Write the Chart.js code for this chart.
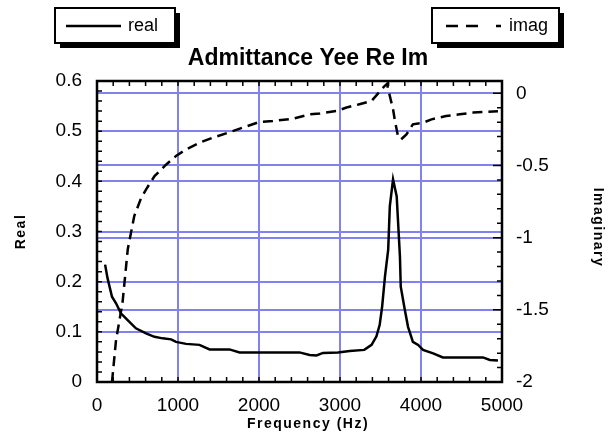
<!DOCTYPE html>
<html>
<head>
  <script src="https://cdn.jsdelivr.net/npm/chart.js@4.4.1/dist/chart.umd.min.js"></script>
  <style>
    body { margin: 0; background: #fff; }
    .chart-container { position: relative; width: 616px; height: 434px; }
  </style>
</head>
<body>
  <div class="chart-container">
    <canvas id="myChart"></canvas>
  </div>
  <script type="text/javascript">
    // data
    var realFreq = [100, 130, 185, 235, 295, 400, 480, 605, 710, 810, 915, 975, 1100, 1265, 1390, 1635, 1760, 2170, 2500, 2625, 2710, 2790, 2975, 3120, 3300, 3390, 3450, 3490, 3520, 3555, 3595, 3615, 3655, 3700, 3720, 3740, 3750, 3800, 3840, 3900, 3965, 4025, 4150, 4270, 4765, 4850, 4950];
    var realVals = [0.234, 0.207, 0.170, 0.157, 0.137, 0.120, 0.107, 0.097, 0.090, 0.087, 0.085, 0.080, 0.076, 0.074, 0.065, 0.065, 0.059, 0.059, 0.059, 0.054, 0.053, 0.058, 0.059, 0.062, 0.064, 0.074, 0.091, 0.114, 0.150, 0.210, 0.264, 0.350, 0.404, 0.370, 0.310, 0.250, 0.190, 0.144, 0.110, 0.080, 0.074, 0.064, 0.057, 0.049, 0.049, 0.044, 0.043];

    var imagFreq = [185, 235, 315, 380, 460, 545, 605, 710, 855, 975, 1100, 1265, 1430, 1675, 2005, 2170, 2420, 2625, 2750, 2955, 3080, 3240, 3390, 3550, 3580, 3610, 3655, 3675, 3715, 3755, 3820, 3900, 4025, 4130, 4310, 4480, 4645, 4765, 4950];
    var imagVals = [-2.0, -1.71, -1.45, -1.08, -0.85, -0.725, -0.667, -0.574, -0.493, -0.435, -0.389, -0.342, -0.308, -0.262, -0.199, -0.192, -0.176, -0.146, -0.140, -0.123, -0.099, -0.076, -0.053, 0.05, 0.065, -0.007, -0.111, -0.18, -0.296, -0.319, -0.285, -0.215, -0.204, -0.181, -0.157, -0.146, -0.134, -0.13, -0.125];

    var xTicks = [0, 1000, 2000, 3000, 4000, 5000];
    var yTicks = [0, 0.1, 0.2, 0.3, 0.4, 0.5, 0.6];
    var y2Ticks = [-2, -1.5, -1, -0.5, 0];

    var chartTitle = 'Admittance Yee Re Im';
    var xTitle = 'Frequency (Hz)';
    var yTitle = 'Real';
    var y2Title = 'Imaginary';
    var seriesNames = ['real', 'imag'];

    var FONT = "'Liberation Sans', Arial, sans-serif";
    var GRID = '#8282ee';

    function pts(xs, ys) {
      return xs.map(function(x, i) { return { x: x, y: ys[i] }; });
    }

    function gridColor(lo, hi) {
      return function(c) {
        var v = c.tick.value;
        return (v > lo + 1e-6 && v < hi - 1e-6) ? GRID : 'rgba(0,0,0,0)';
      };
    }

    function plainLabel(v) {
      return String(Math.round(v * 100) / 100);
    }

    // frame, inward ticks, legend boxes and titles
    var decor = {
      id: 'decor',
      afterDatasetsDraw: function(chart) {
        var ctx = chart.ctx;
        var a = chart.chartArea;
        var sx = chart.scales.x, sy = chart.scales.y, sy2 = chart.scales.y2;
        ctx.save();
        ctx.strokeStyle = '#000';
        ctx.lineWidth = 1.5;
        ctx.beginPath();
        // x minor ticks (top and bottom)
        for (var f = 200; f < 5000; f += 200) {
          var px = sx.getPixelForValue(f);
          ctx.moveTo(px, a.bottom); ctx.lineTo(px, a.bottom - 5);
          ctx.moveTo(px, a.top); ctx.lineTo(px, a.top + 5);
        }
        // left minor ticks
        for (var v = 0.02; v < 0.599; v += 0.02) {
          var py = sy.getPixelForValue(v);
          ctx.moveTo(a.left, py); ctx.lineTo(a.left + 5, py);
        }
        // right ticks
        for (var k = -19; k <= 0; k++) {
          var py2 = sy2.getPixelForValue(k / 10);
          var len = (k % 5 === 0) ? 9 : 5;
          ctx.moveTo(a.right, py2); ctx.lineTo(a.right - len, py2);
        }
        ctx.stroke();

        // frame
        ctx.lineWidth = 2.5;
        ctx.strokeRect(a.left, a.top, a.right - a.left, a.bottom - a.top);
        ctx.restore();
      },
      afterDraw: function(chart) {
        var ctx = chart.ctx;
        var a = chart.chartArea;
        ctx.save();

        // legend boxes with drop shadow
        function box(x0, y0, w, h) {
          ctx.fillStyle = '#000';
          ctx.fillRect(x0 + 5, y0 + 5, w, h);
          ctx.fillStyle = '#fff';
          ctx.fillRect(x0, y0, w, h);
          ctx.lineWidth = 2;
          ctx.strokeStyle = '#000';
          ctx.strokeRect(x0, y0, w, h);
        }
        box(55, 8, 120, 35);
        box(432, 8, 127, 35);

        ctx.lineWidth = 2.5;
        ctx.beginPath();
        ctx.moveTo(66, 26); ctx.lineTo(121, 26);
        ctx.stroke();
        ctx.setLineDash([12, 8, 12, 18]);
        ctx.beginPath();
        ctx.moveTo(446, 26); ctx.lineTo(501, 26);
        ctx.stroke();
        ctx.setLineDash([]);

        ctx.fillStyle = '#000';
        ctx.font = '18px ' + FONT;
        ctx.textBaseline = 'middle';
        ctx.textAlign = 'left';
        ctx.fillText(seriesNames[0], 128, 26);
        ctx.fillText(seriesNames[1], 509, 26);

        // chart title
        ctx.font = 'bold 23px ' + FONT;
        ctx.textAlign = 'center';
        ctx.textBaseline = 'alphabetic';
        ctx.fillText(chartTitle, 308, 65);

        // x title
        ctx.font = 'bold 14px ' + FONT;
        ctx.letterSpacing = '1.5px';
        ctx.fillText(xTitle, 308, 428);

        // y titles
        ctx.save();
        ctx.translate(25, (a.top + a.bottom) / 2);
        ctx.rotate(-Math.PI / 2);
        ctx.fillText(yTitle, 0, 0);
        ctx.restore();

        ctx.save();
        ctx.translate(594, (a.top + a.bottom) / 2 - 4);
        ctx.rotate(Math.PI / 2);
        ctx.fillText(y2Title, 0, 0);
        ctx.restore();

        ctx.restore();
      }
    };

    var ctx = document.getElementById('myChart').getContext('2d');
    var chart = new Chart(ctx, {
      type: 'line',
      data: {
        datasets: [{
          label: seriesNames[0],
          data: pts(realFreq, realVals),
          yAxisID: 'y',
          borderColor: '#000',
          borderWidth: 2.5,
          pointRadius: 0,
          tension: 0,
          fill: false
        }, {
          label: seriesNames[1],
          data: pts(imagFreq, imagVals),
          yAxisID: 'y2',
          borderColor: '#000',
          borderWidth: 2.5,
          borderDash: [10, 6],
          pointRadius: 0,
          tension: 0,
          fill: false
        }]
      },
      options: {
        responsive: true,
        maintainAspectRatio: false,
        animation: false,
        layout: { padding: { top: 81, left: 0, right: 0, bottom: 0 } },
        plugins: {
          legend: { display: false },
          title: { display: false },
          tooltip: { enabled: false }
        },
        scales: {
          x: {
            type: 'linear',
            min: 0,
            max: 5000,
            afterBuildTicks: function(s) { s.ticks = xTicks.map(function(v) { return { value: v }; }); },
            afterFit: function(s) { s.height = 52; },
            ticks: { color: '#000', font: { family: FONT, size: 19 }, padding: 12, maxRotation: 0, callback: plainLabel },
            grid: { color: gridColor(0, 5000), lineWidth: 2, drawTicks: false },
            border: { display: false }
          },
          y: {
            position: 'left',
            min: 0,
            max: 0.6,
            afterBuildTicks: function(s) { s.ticks = yTicks.map(function(v) { return { value: v }; }); },
            afterFit: function(s) { s.width = 97; },
            ticks: { color: '#000', font: { family: FONT, size: 19 }, padding: 15, callback: plainLabel },
            grid: { color: gridColor(0, 0.6), lineWidth: 2, drawTicks: false },
            border: { display: false }
          },
          y2: {
            position: 'right',
            min: -2,
            max: 0.085,
            afterBuildTicks: function(s) { s.ticks = y2Ticks.map(function(v) { return { value: v }; }); },
            afterFit: function(s) { s.width = 114; },
            ticks: { color: '#000', font: { family: FONT, size: 19 }, padding: 14, callback: plainLabel },
            grid: { color: gridColor(-2, 0.085), lineWidth: 2, drawTicks: false },
            border: { display: false }
          }
        }
      },
      plugins: [decor]
    });
  </script>
</body>
</html>
